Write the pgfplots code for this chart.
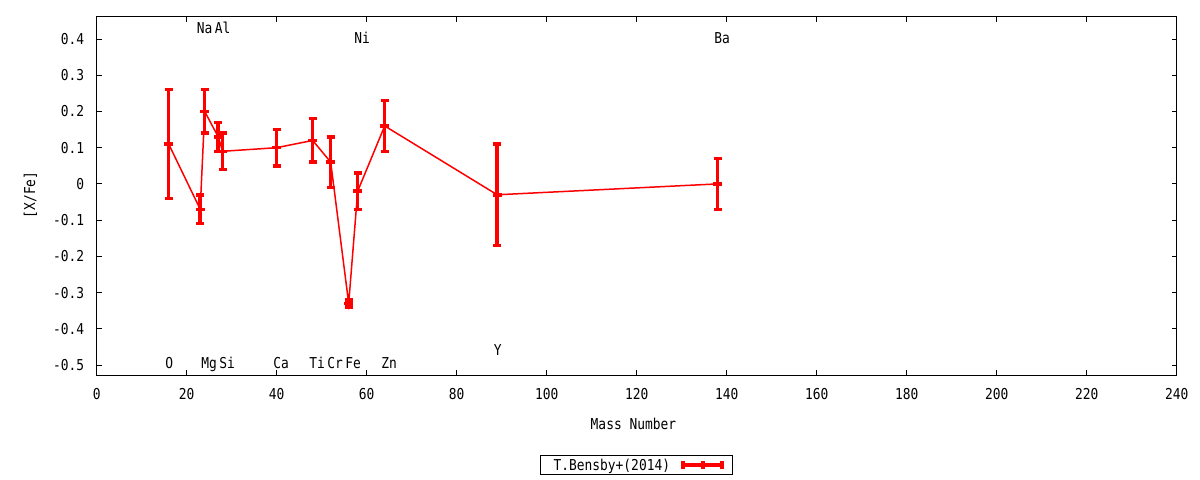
\documentclass[border=0pt]{standalone}
\usepackage{fontspec}
\setmainfont[FakeStretch=0.86]{DejaVu Sans Mono}
\usepackage{pgfplots}
\usepackage{pgfplotstable}
\pgfplotsset{compat=1.18}

\pgfplotstableread{
x y e
16 0.11 0.15
23 -0.07 0.04
24 0.20 0.06
27 0.13 0.04
28 0.09 0.05
40 0.10 0.05
48 0.12 0.06
52 0.06 0.07
56 -0.33 0.01
58 -0.02 0.05
64 0.16 0.07
89 -0.03 0.14
138 0.00 0.07
}\bensby

\begin{document}
\begin{tikzpicture}[font=\fontsize{15bp}{18bp}\selectfont]
\useasboundingbox (0,0) rectangle (1200bp,480bp);
\begin{axis}[
  at={(96.7bp,105bp)}, anchor=south west,
  scale only axis, width=1080bp, height=358bp,
  xmin=0, xmax=240, ymin=-0.5276, ymax=0.4608,
  xtick={0,20,40,60,80,100,120,140,160,180,200,220,240},
  xticklabels={0,20,40,60,80,100,120,140,160,180,200,220,240},
  ytick={-0.5,-0.4,-0.3,-0.2,-0.1,0,0.1,0.2,0.3,0.4},
  yticklabels={-0.5,-0.4,-0.3,-0.2,-0.1,0,0.1,0.2,0.3,0.4},
  tick align=inside, major tick length=5bp,
  every tick/.style={black, line width=1bp},
  axis line style={black, line width=1bp},
  tick label style={font=\fontsize{15bp}{18bp}\selectfont, inner sep=0bp},
  xticklabel style={yshift=-13bp},
  yticklabel style={xshift=-12.4bp},
  xlabel={Mass Number}, ylabel={[X/Fe]},
  label style={font=\fontsize{15bp}{18bp}\selectfont},
  xlabel style={at={(0.497,-0.1369)}, anchor=center},
  ylabel style={at={(-0.0613,0.5028)}, anchor=center, rotate=0},
  legend plot pos=right,
  legend style={at={(0.4998,-0.2522)}, anchor=center, draw=black, line width=1bp,
    inner xsep=6.6bp, inner ysep=3bp, column sep=9bp,
    font=\fontsize{15bp}{18bp}\selectfont,
    nodes={inner sep=0bp}},
  clip=false,
]
\addplot[red, line width=1.5bp, mark=-, mark size=4.5bp,
  mark options={line width=3.5bp, solid},
  legend image code/.code={
    \draw[red, line width=4bp] (0bp,0bp) -- (43bp,0bp);
    \draw[red, line width=4bp] (2bp,-4bp) -- (2bp,4bp);
    \draw[red, line width=4bp] (21.5bp,-4bp) -- (21.5bp,4bp);
    \draw[red, line width=4bp] (41bp,-4bp) -- (41bp,4bp);
  },
  error bars/.cd, y dir=both, y explicit,
  error mark=-,
  error bar style={line width=3.5bp, red},
  error mark options={rotate=90, line width=3.5bp, mark size=4bp, red}]
  table[x=x, y=y, y error=e] {\bensby};
\addlegendentry{\hspace*{6.7bp}T.Bensby+(2014)}

\begin{scope}[every node/.style={anchor=base west, inner sep=0bp, xshift=-3.5bp, text=black}]
\node at (axis cs:23,0.4157) {Na};
\node at (axis cs:27,0.4157) {Al};
\node at (axis cs:58,0.3881) {Ni};
\node at (axis cs:138,0.3881) {Ba};
\node at (axis cs:16,-0.511) {O};
\node at (axis cs:24,-0.511) {Mg};
\node at (axis cs:28,-0.511) {Si};
\node at (axis cs:40,-0.511) {Ca};
\node at (axis cs:48,-0.511) {Ti};
\node at (axis cs:52,-0.511) {Cr};
\node at (axis cs:56,-0.511) {Fe};
\node at (axis cs:64,-0.511) {Zn};
\node at (axis cs:89,-0.4724) {Y};
\end{scope}
\end{axis}
\end{tikzpicture}
\end{document}
